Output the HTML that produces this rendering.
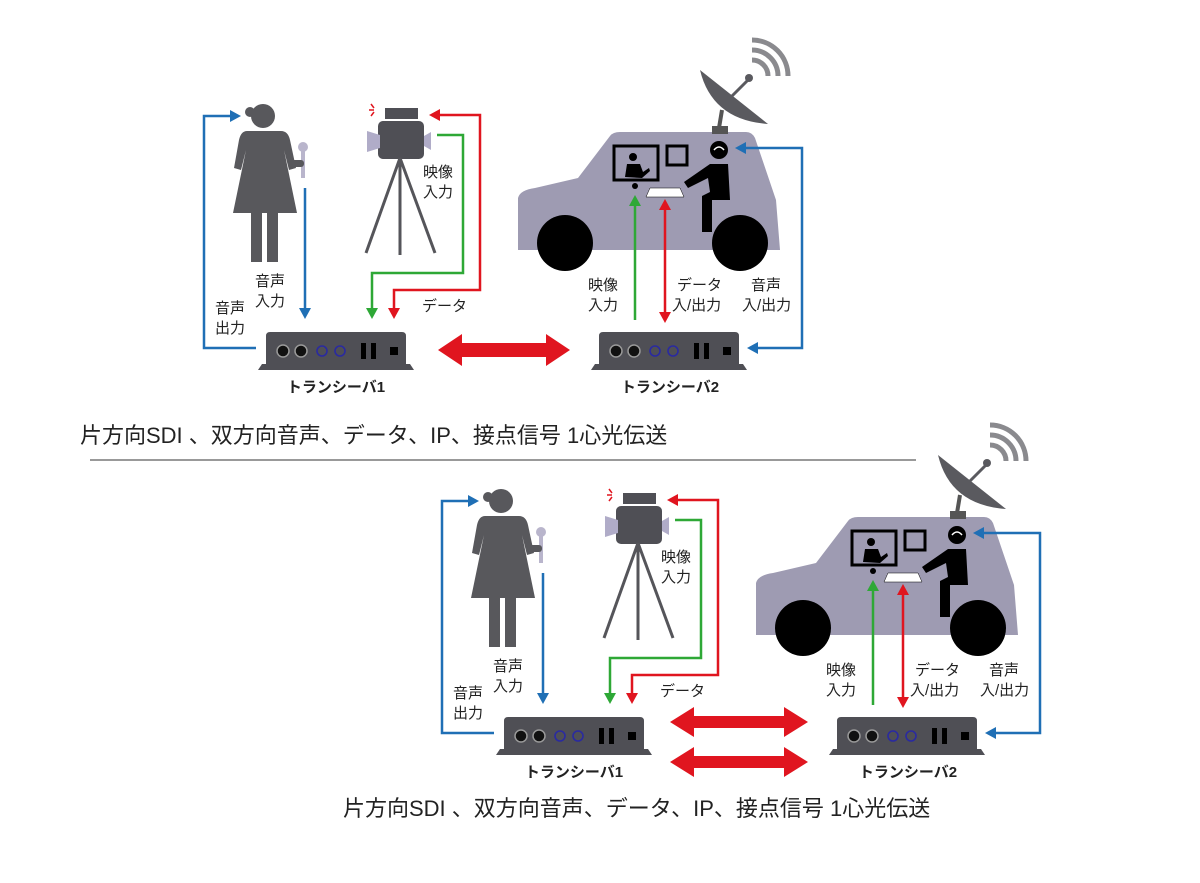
<!DOCTYPE html>
<html><head><meta charset="utf-8"><style>
html,body{margin:0;padding:0;background:#fff;}
svg{display:block;}
</style></head><body>
<svg width="1200" height="883" viewBox="0 0 1200 883" xmlns="http://www.w3.org/2000/svg" style="font-family:'Liberation Sans','Noto Sans CJK JP',sans-serif">
<g>
<circle cx="263" cy="116" r="12" fill="#58585c"/>
<circle cx="250" cy="112" r="5" fill="#58585c"/>
<path d="M247,131 L281,131 Q288,131 290,140 L296,168 L289,170 L284,150 L297,213 L233,213 L246,150 L241,170 L234,168 L239,140 Q241,131 247,131Z" fill="#58585c"/>
<rect x="251" y="212" width="11" height="50" fill="#58585c"/><rect x="267" y="212" width="11" height="50" fill="#58585c"/>
<rect x="301" y="150" width="4" height="28" fill="#b9b5cc"/><circle cx="303" cy="147" r="5" fill="#b9b5cc"/>
<rect x="290" y="160" width="14" height="7" rx="3" fill="#58585c"/>
<rect x="385" y="108" width="33" height="11" fill="#4f4f55"/>
<rect x="378" y="121" width="46" height="38" rx="5" fill="#4f4f55"/>
<path d="M367,131 L380,135 L380,148 L367,152Z" fill="#b0acc8"/>
<path d="M424,136 L431,132 L431,150 L424,146Z" fill="#b0acc8"/>
<path d="M371,104l3,4M369,110h5M371,116l3,-4" stroke="#e0151f" stroke-width="1.5"/>
<path d="M400,158 L366,253 M400,158 L400,255 M400,158 L435,253" stroke="#55555a" stroke-width="3"/>
<path d="M305,188 V310" stroke="#1f6fb5" stroke-width="2.5" fill="none"/><polygon points="299,308 311,308 305,319" fill="#1f6fb5"/>
<path d="M256,348 H204 V116 H232" stroke="#1f6fb5" stroke-width="2.5" fill="none"/><polygon points="230,110 230,122 241,116" fill="#1f6fb5"/>
<path d="M437,135 H463 V273 H372 V310" stroke="#2ea836" stroke-width="2.5" fill="none"/><polygon points="366,308 378,308 372,319" fill="#2ea836"/>
<path d="M394,310 V290 H480 V115 H438" stroke="#e0151f" stroke-width="2.5" fill="none"/><polygon points="388,308 400,308 394,319" fill="#e0151f"/><polygon points="440,109 440,121 429,115" fill="#e0151f"/>
<g>
<path d="M258,370 L262,364 L266,364 L266,336 Q266,332 270,332 L402,332 Q406,332 406,336 L406,364 L410,364 L414,370 Z" fill="#4f4f55"/>
<circle cx="283" cy="351" r="6" fill="#111" stroke="#999" stroke-width="1.5"/><circle cx="301" cy="351" r="6" fill="#111" stroke="#999" stroke-width="1.5"/>
<circle cx="322" cy="351" r="5" fill="none" stroke="#2a2aa0" stroke-width="1.6"/><circle cx="340" cy="351" r="5" fill="none" stroke="#2a2aa0" stroke-width="1.6"/>
<rect x="361" y="343" width="5" height="16" fill="#000"/><rect x="371" y="343" width="5" height="16" fill="#000"/><rect x="390" y="347" width="8" height="8" fill="#000"/>
</g>
<g transform="translate(333,0)">
<path d="M258,370 L262,364 L266,364 L266,336 Q266,332 270,332 L402,332 Q406,332 406,336 L406,364 L410,364 L414,370 Z" fill="#4f4f55"/>
<circle cx="283" cy="351" r="6" fill="#111" stroke="#999" stroke-width="1.5"/><circle cx="301" cy="351" r="6" fill="#111" stroke="#999" stroke-width="1.5"/>
<circle cx="322" cy="351" r="5" fill="none" stroke="#2a2aa0" stroke-width="1.6"/><circle cx="340" cy="351" r="5" fill="none" stroke="#2a2aa0" stroke-width="1.6"/>
<rect x="361" y="343" width="5" height="16" fill="#000"/><rect x="371" y="343" width="5" height="16" fill="#000"/><rect x="390" y="347" width="8" height="8" fill="#000"/>
</g>
<path d="M518,250 L518,198 Q520,190 535,188 L578,178 L610,136 Q613,132 620,132 L746,132 Q752,132 755,138 L776,200 L780,250 Z" fill="#9e9bb2"/>
<circle cx="565" cy="243" r="28" fill="#000"/><circle cx="740" cy="243" r="28" fill="#000"/>
<rect x="712" y="126" width="16" height="8" fill="#555"/>
<path d="M719,128 L722,110" stroke="#555" stroke-width="4"/>
<path d="M700,70 Q712,120 768,124 Z" fill="#5a5a5f"/>
<path d="M730,98 L748,80" stroke="#5a5a5f" stroke-width="3"/><circle cx="749" cy="78" r="4" fill="#5a5a5f"/>
<path d="M752,60 A16,16 0 0 1 768,76 M752,50 A26,26 0 0 1 778,76 M752,40 A36,36 0 0 1 788,76" stroke="#8a8a8e" stroke-width="5" fill="none"/>
<rect x="614" y="146" width="44" height="34" fill="none" stroke="#000" stroke-width="3"/>
<circle cx="633" cy="157" r="4" fill="#000"/><path d="M625,177 L627,164 L640,164 L643,172 L649,168 L650,171 L642,178Z" fill="#000"/>
<circle cx="635" cy="186" r="3" fill="#000"/>
<rect x="667" y="146" width="20" height="19" fill="none" stroke="#000" stroke-width="3"/>
<path d="M650,188 H680 L684,197 H646Z" fill="#fff" stroke="#000" stroke-width="0.5"/>
<circle cx="719" cy="150" r="9" fill="#000"/><path d="M714,150 Q719,144 724,150" stroke="#fff" stroke-width="1.5" fill="none"/>
<path d="M710,164 L728,164 L730,200 L712,200 L712,232 L702,232 L702,196 L710,192 L708,178 L688,188 L684,182 Z" fill="#000"/>
<path d="M635,320 V204" stroke="#2ea836" stroke-width="2.5"/><polygon points="629,206 641,206 635,195" fill="#2ea836"/>
<path d="M665,312 V208" stroke="#e0151f" stroke-width="2.5"/><polygon points="659,210 671,210 665,199" fill="#e0151f"/><polygon points="659,312 671,312 665,323" fill="#e0151f"/>
<path d="M756,348 H802 V148 H744" stroke="#1f6fb5" stroke-width="2.5" fill="none"/><polygon points="758,342 758,354 747,348" fill="#1f6fb5"/><polygon points="746,142 746,154 735,148" fill="#1f6fb5"/>
</g>
<path d="M438,350 L462,334 L462,343 L546,343 L546,334 L570,350 L546,366 L546,357 L462,357 L462,366Z" fill="#e0151f"/>

<g transform="translate(238,385)">
<circle cx="263" cy="116" r="12" fill="#58585c"/>
<circle cx="250" cy="112" r="5" fill="#58585c"/>
<path d="M247,131 L281,131 Q288,131 290,140 L296,168 L289,170 L284,150 L297,213 L233,213 L246,150 L241,170 L234,168 L239,140 Q241,131 247,131Z" fill="#58585c"/>
<rect x="251" y="212" width="11" height="50" fill="#58585c"/><rect x="267" y="212" width="11" height="50" fill="#58585c"/>
<rect x="301" y="150" width="4" height="28" fill="#b9b5cc"/><circle cx="303" cy="147" r="5" fill="#b9b5cc"/>
<rect x="290" y="160" width="14" height="7" rx="3" fill="#58585c"/>
<rect x="385" y="108" width="33" height="11" fill="#4f4f55"/>
<rect x="378" y="121" width="46" height="38" rx="5" fill="#4f4f55"/>
<path d="M367,131 L380,135 L380,148 L367,152Z" fill="#b0acc8"/>
<path d="M424,136 L431,132 L431,150 L424,146Z" fill="#b0acc8"/>
<path d="M371,104l3,4M369,110h5M371,116l3,-4" stroke="#e0151f" stroke-width="1.5"/>
<path d="M400,158 L366,253 M400,158 L400,255 M400,158 L435,253" stroke="#55555a" stroke-width="3"/>
<path d="M305,188 V310" stroke="#1f6fb5" stroke-width="2.5" fill="none"/><polygon points="299,308 311,308 305,319" fill="#1f6fb5"/>
<path d="M256,348 H204 V116 H232" stroke="#1f6fb5" stroke-width="2.5" fill="none"/><polygon points="230,110 230,122 241,116" fill="#1f6fb5"/>
<path d="M437,135 H463 V273 H372 V310" stroke="#2ea836" stroke-width="2.5" fill="none"/><polygon points="366,308 378,308 372,319" fill="#2ea836"/>
<path d="M394,310 V290 H480 V115 H438" stroke="#e0151f" stroke-width="2.5" fill="none"/><polygon points="388,308 400,308 394,319" fill="#e0151f"/><polygon points="440,109 440,121 429,115" fill="#e0151f"/>
<g>
<path d="M258,370 L262,364 L266,364 L266,336 Q266,332 270,332 L402,332 Q406,332 406,336 L406,364 L410,364 L414,370 Z" fill="#4f4f55"/>
<circle cx="283" cy="351" r="6" fill="#111" stroke="#999" stroke-width="1.5"/><circle cx="301" cy="351" r="6" fill="#111" stroke="#999" stroke-width="1.5"/>
<circle cx="322" cy="351" r="5" fill="none" stroke="#2a2aa0" stroke-width="1.6"/><circle cx="340" cy="351" r="5" fill="none" stroke="#2a2aa0" stroke-width="1.6"/>
<rect x="361" y="343" width="5" height="16" fill="#000"/><rect x="371" y="343" width="5" height="16" fill="#000"/><rect x="390" y="347" width="8" height="8" fill="#000"/>
</g>
<g transform="translate(333,0)">
<path d="M258,370 L262,364 L266,364 L266,336 Q266,332 270,332 L402,332 Q406,332 406,336 L406,364 L410,364 L414,370 Z" fill="#4f4f55"/>
<circle cx="283" cy="351" r="6" fill="#111" stroke="#999" stroke-width="1.5"/><circle cx="301" cy="351" r="6" fill="#111" stroke="#999" stroke-width="1.5"/>
<circle cx="322" cy="351" r="5" fill="none" stroke="#2a2aa0" stroke-width="1.6"/><circle cx="340" cy="351" r="5" fill="none" stroke="#2a2aa0" stroke-width="1.6"/>
<rect x="361" y="343" width="5" height="16" fill="#000"/><rect x="371" y="343" width="5" height="16" fill="#000"/><rect x="390" y="347" width="8" height="8" fill="#000"/>
</g>
<path d="M518,250 L518,198 Q520,190 535,188 L578,178 L610,136 Q613,132 620,132 L746,132 Q752,132 755,138 L776,200 L780,250 Z" fill="#9e9bb2"/>
<circle cx="565" cy="243" r="28" fill="#000"/><circle cx="740" cy="243" r="28" fill="#000"/>
<rect x="712" y="126" width="16" height="8" fill="#555"/>
<path d="M719,128 L722,110" stroke="#555" stroke-width="4"/>
<path d="M700,70 Q712,120 768,124 Z" fill="#5a5a5f"/>
<path d="M730,98 L748,80" stroke="#5a5a5f" stroke-width="3"/><circle cx="749" cy="78" r="4" fill="#5a5a5f"/>
<path d="M752,60 A16,16 0 0 1 768,76 M752,50 A26,26 0 0 1 778,76 M752,40 A36,36 0 0 1 788,76" stroke="#8a8a8e" stroke-width="5" fill="none"/>
<rect x="614" y="146" width="44" height="34" fill="none" stroke="#000" stroke-width="3"/>
<circle cx="633" cy="157" r="4" fill="#000"/><path d="M625,177 L627,164 L640,164 L643,172 L649,168 L650,171 L642,178Z" fill="#000"/>
<circle cx="635" cy="186" r="3" fill="#000"/>
<rect x="667" y="146" width="20" height="19" fill="none" stroke="#000" stroke-width="3"/>
<path d="M650,188 H680 L684,197 H646Z" fill="#fff" stroke="#000" stroke-width="0.5"/>
<circle cx="719" cy="150" r="9" fill="#000"/><path d="M714,150 Q719,144 724,150" stroke="#fff" stroke-width="1.5" fill="none"/>
<path d="M710,164 L728,164 L730,200 L712,200 L712,232 L702,232 L702,196 L710,192 L708,178 L688,188 L684,182 Z" fill="#000"/>
<path d="M635,320 V204" stroke="#2ea836" stroke-width="2.5"/><polygon points="629,206 641,206 635,195" fill="#2ea836"/>
<path d="M665,312 V208" stroke="#e0151f" stroke-width="2.5"/><polygon points="659,210 671,210 665,199" fill="#e0151f"/><polygon points="659,312 671,312 665,323" fill="#e0151f"/>
<path d="M756,348 H802 V148 H744" stroke="#1f6fb5" stroke-width="2.5" fill="none"/><polygon points="758,342 758,354 747,348" fill="#1f6fb5"/><polygon points="746,142 746,154 735,148" fill="#1f6fb5"/>
</g>
<path d="M670,722 L694,707 L694,716 L784,716 L784,707 L808,722 L784,737 L784,728 L694,728 L694,737Z" fill="#e0151f"/>
<path d="M670,762 L694,747 L694,756 L784,756 L784,747 L808,762 L784,777 L784,768 L694,768 L694,777Z" fill="#e0151f"/>

<g font-size="15" fill="#222">
<text x="423" y="177">映像</text><text x="423" y="197">入力</text>
<text x="255" y="286">音声</text><text x="255" y="306">入力</text>
<text x="215" y="313">音声</text><text x="215" y="333">出力</text>
<text x="422" y="311">データ</text>
<text x="588" y="290">映像</text><text x="588" y="310">入力</text>
<text x="677" y="290">データ</text><text x="672" y="310">入/出力</text>
<text x="751" y="290">音声</text><text x="742" y="310">入/出力</text>
<text x="661" y="562">映像</text><text x="661" y="582">入力</text>
<text x="493" y="671">音声</text><text x="493" y="691">入力</text>
<text x="453" y="698">音声</text><text x="453" y="718">出力</text>
<text x="660" y="696">データ</text>
<text x="826" y="675">映像</text><text x="826" y="695">入力</text>
<text x="915" y="675">データ</text><text x="910" y="695">入/出力</text>
<text x="989" y="675">音声</text><text x="980" y="695">入/出力</text>
</g>
<g font-size="15" font-weight="bold" text-anchor="middle" fill="#222">
<text x="336" y="392">トランシーバ1</text><text x="670" y="392">トランシーバ2</text>
<text x="574" y="777">トランシーバ1</text><text x="908" y="777">トランシーバ2</text>
</g>
<text x="80" y="443" font-size="22" fill="#222">片方向SDI 、双方向音声、データ、IP、接点信号 1心光伝送</text>
<line x1="90" y1="460" x2="916" y2="460" stroke="#999" stroke-width="2"/>
<text x="343" y="816" font-size="22" fill="#222">片方向SDI 、双方向音声、データ、IP、接点信号 1心光伝送</text>
</svg>
</body></html>
